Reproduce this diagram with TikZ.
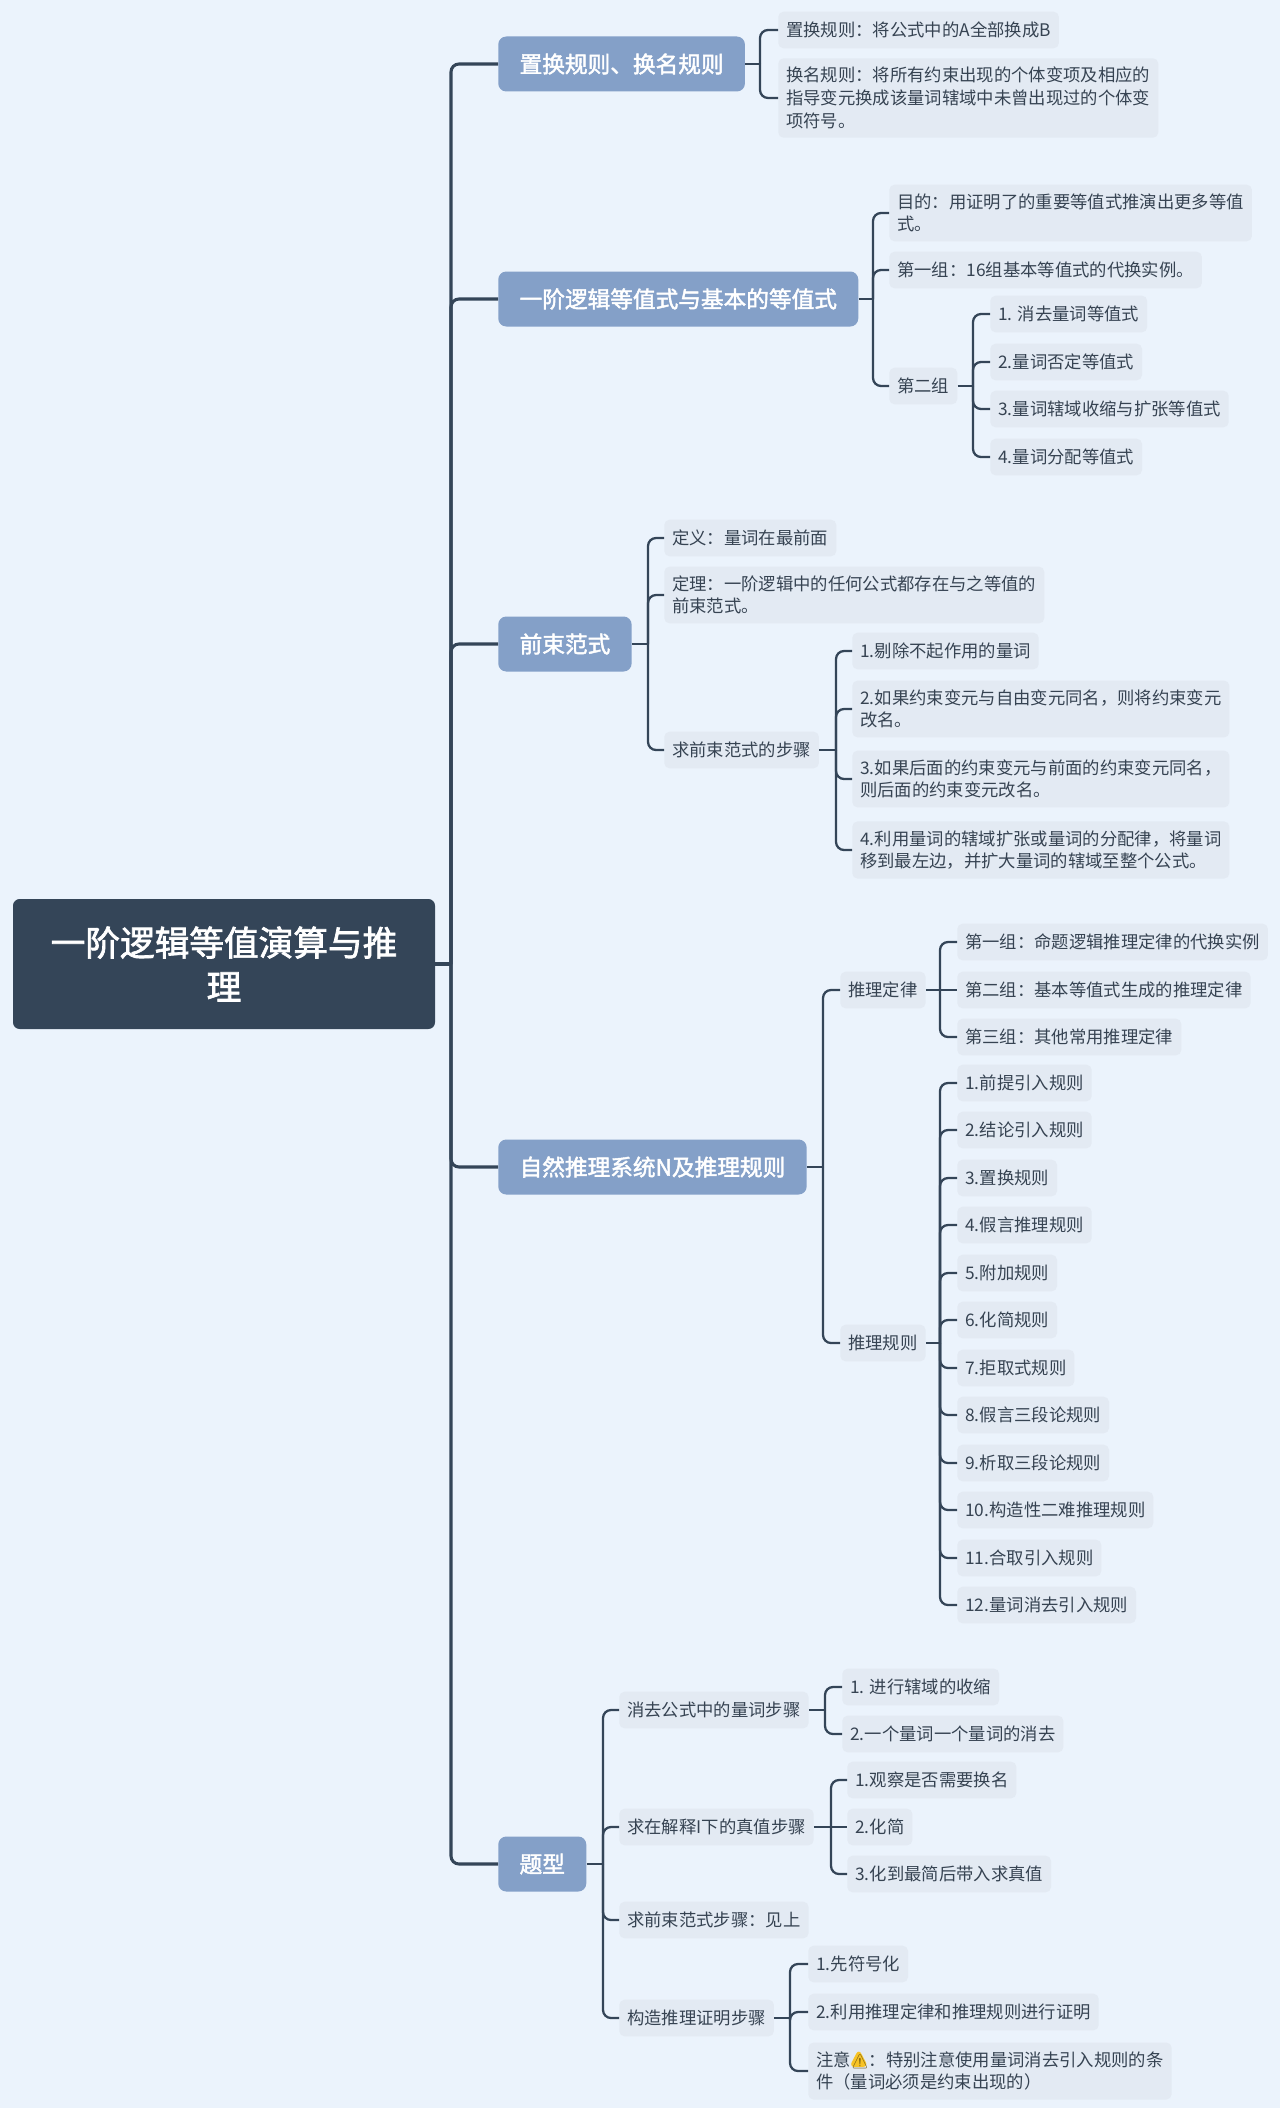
\documentclass[tikz,border=0pt]{standalone}
\usepackage{fontspec}
\setmainfont{Noto Sans CJK SC}
\newfontfamily\semifont[FakeBold=2]{Noto Sans CJK SC}
\newfontfamily\emojifont{Noto Emoji}
\usetikzlibrary{positioning,calc}
\definecolor{bgblue}{HTML}{EBF3FC}
\definecolor{rootfill}{HTML}{344558}
\definecolor{topicfill}{HTML}{84A0C8}
\definecolor{leaffill}{HTML}{E3EAF3}
\definecolor{leaftext}{HTML}{364352}
\definecolor{warnamber}{HTML}{F7C325}
\begin{document}
\begin{tikzpicture}[
  x=0.75pt, y=-0.75pt,
  root/.style={rectangle, fill=rootfill, text=white, rounded corners=5pt, minimum width=316.5pt, minimum height=97.5pt, align=center, font=\fontsize{26}{33}\selectfont\semifont},
  topic/.style={rectangle, anchor=west, fill=topicfill, text=white, rounded corners=6pt, inner xsep=16pt, inner ysep=0pt, minimum height=41.25pt, font=\fontsize{17}{20}\selectfont\semifont},
  leaf/.style={rectangle, anchor=west, fill=leaffill, text=leaftext, rounded corners=4pt, inner xsep=6pt, inner ysep=4.5pt, minimum height=27.5pt, align=left, font=\fontsize{13}{17}\selectfont},
  long/.style={leaf, inner ysep=6.75pt},
  trunk/.style={rootfill, line width=2.3pt, rounded corners=6pt},
  twig/.style={rootfill, line width=1.7pt, rounded corners=6pt}
]
  \fill[bgblue] (0,0) rectangle (1280,2108);
  \node[root] (m) at (224,964) {一阶逻辑等值演算与推\\理};
  \node[topic] (t1) at (498,64) {置换规则、换名规则};
  \node[topic] (t2) at (498,299) {一阶逻辑等值式与基本的等值式};
  \node[topic] (t3) at (498,644) {前束范式};
  \node[topic] (t4) at (498,1167) {自然推理系统N及推理规则};
  \node[topic] (t5) at (498,1864) {题型};

  \node[leaf] (a1) at (778,30) {置换规则：将公式中的A全部换成B};
  \node[long] (a2) at (778,98) {换名规则：将所有约束出现的个体变项及相应的\\指导变元换成该量词辖域中未曾出现过的个体变\\项符号。};

  \node[long] (b1) at (889,213) {目的：用证明了的重要等值式推演出更多等值\\式。};
  \node[leaf] (b2) at (889,270) {第一组：16组基本等值式的代换实例。};
  \node[leaf] (b3) at (889,386) {第二组};
  \node[leaf] (b31) at (990,314) {1. 消去量词等值式};
  \node[leaf] (b32) at (990,362) {2.量词否定等值式};
  \node[leaf] (b33) at (990,409) {3.量词辖域收缩与扩张等值式};
  \node[leaf] (b34) at (990,457) {4.量词分配等值式};

  \node[leaf] (c1) at (664,538) {定义：量词在最前面};
  \node[long] (c2) at (664,595) {定理：一阶逻辑中的任何公式都存在与之等值的\\前束范式。};
  \node[leaf] (c3) at (664,750) {求前束范式的步骤};
  \node[leaf] (c31) at (852,651) {1.剔除不起作用的量词};
  \node[long] (c32) at (852,709) {2.如果约束变元与自由变元同名，则将约束变元\\改名。};
  \node[long] (c33) at (852,779) {3.如果后面的约束变元与前面的约束变元同名，\\则后面的约束变元改名。};
  \node[long] (c34) at (852,850) {4.利用量词的辖域扩张或量词的分配律，将量词\\移到最左边，并扩大量词的辖域至整个公式。};

  \node[leaf] (d1) at (840,990) {推理定律};
  \node[leaf] (d11) at (957,942) {第一组：命题逻辑推理定律的代换实例};
  \node[leaf] (d12) at (957,990) {第二组：基本等值式生成的推理定律};
  \node[leaf] (d13) at (957,1037) {第三组：其他常用推理定律};
  \node[leaf] (d2) at (840,1343) {推理规则};
  \node[leaf] (d21) at (957,1083) {1.前提引入规则};
  \node[leaf] (d22) at (957,1130) {2.结论引入规则};
  \node[leaf] (d23) at (957,1178) {3.置换规则};
  \node[leaf] (d24) at (957,1225) {4.假言推理规则};
  \node[leaf] (d25) at (957,1273) {5.附加规则};
  \node[leaf] (d26) at (957,1320) {6.化简规则};
  \node[leaf] (d27) at (957,1368) {7.拒取式规则};
  \node[leaf] (d28) at (957,1415) {8.假言三段论规则};
  \node[leaf] (d29) at (957,1463) {9.析取三段论规则};
  \node[leaf] (d210) at (957,1510) {10.构造性二难推理规则};
  \node[leaf] (d211) at (957,1558) {11.合取引入规则};
  \node[leaf] (d212) at (957,1605) {12.量词消去引入规则};

  \node[leaf] (e1) at (619,1710) {消去公式中的量词步骤};
  \node[leaf] (e11) at (842,1687) {1. 进行辖域的收缩};
  \node[leaf] (e12) at (842,1734) {2.一个量词一个量词的消去};
  \node[leaf] (e2) at (619,1827) {求在解释I下的真值步骤};
  \node[leaf] (e21) at (847,1780) {1.观察是否需要换名};
  \node[leaf] (e22) at (847,1827) {2.化简};
  \node[leaf] (e23) at (847,1874) {3.化到最简后带入求真值};
  \node[leaf] (e3) at (619,1920) {求前束范式步骤：见上};
  \node[leaf] (e4) at (619,2018) {构造推理证明步骤};
  \node[leaf] (e41) at (808,1964) {1.先符号化};
  \node[leaf] (e42) at (808,2012) {2.利用推理定律和推理规则进行证明};
  \node[long, path picture={\fill[warnamber, shift={(path picture bounding box.west)}] (33,-22) -- (52,-22) -- (42.5,-40) -- cycle;}] (e43) at (808,2071) {注意\makebox[13.5pt]{\emojifont\fontsize{10.5}{10.5}\selectfont\textcolor{warnamber!45!black}{⚠}}：特别注意使用量词消去引入规则的条\\件（量词必须是约束出现的）};

  \coordinate (jm) at (451,964);
  \coordinate (j1) at (760,64);
  \coordinate (j2) at (873,299);
  \coordinate (j23) at (973,386);
  \coordinate (j3) at (648,644);
  \coordinate (j33) at (836,750);
  \coordinate (j4) at (823,1167);
  \coordinate (j41) at (940,990);
  \coordinate (j42) at (940,1343);
  \coordinate (j5) at (603,1864);
  \coordinate (j51) at (825,1710);
  \coordinate (j52) at (831,1827);
  \coordinate (j54) at (790,2018);

  \draw[trunk] (m) -- (jm);
  \draw[trunk] (jm) |- (t1.west);
  \draw[trunk] (jm) |- (t2.west);
  \draw[trunk] (jm) |- (t3.west);
  \draw[trunk] (jm) |- (t4.west);
  \draw[trunk] (jm) |- (t5.west);

  \draw[twig] (t1) -- (j1);
  \draw[twig] (j1) |- (a1.west);
  \draw[twig] (j1) |- (a2.west);

  \draw[twig] (t2) -- (j2);
  \draw[twig] (j2) |- (b1.west);
  \draw[twig] (j2) |- (b2.west);
  \draw[twig] (j2) |- (b3.west);
  \draw[twig] (b3) -- (j23);
  \draw[twig] (j23) |- (b31.west);
  \draw[twig] (j23) |- (b32.west);
  \draw[twig] (j23) |- (b33.west);
  \draw[twig] (j23) |- (b34.west);

  \draw[twig] (t3) -- (j3);
  \draw[twig] (j3) |- (c1.west);
  \draw[twig] (j3) |- (c2.west);
  \draw[twig] (j3) |- (c3.west);
  \draw[twig] (c3) -- (j33);
  \draw[twig] (j33) |- (c31.west);
  \draw[twig] (j33) |- (c32.west);
  \draw[twig] (j33) |- (c33.west);
  \draw[twig] (j33) |- (c34.west);

  \draw[twig] (t4) -- (j4);
  \draw[twig] (j4) |- (d1.west);
  \draw[twig] (j4) |- (d2.west);
  \draw[twig] (d1) -- (j41);
  \draw[twig] (j41) |- (d11.west);
  \draw[twig] (j41) -- (d12.west);
  \draw[twig] (j41) |- (d13.west);
  \draw[twig] (d2) -- (j42);
  \draw[twig] (j42) |- (d21.west);
  \draw[twig] (j42) |- (d22.west);
  \draw[twig] (j42) |- (d23.west);
  \draw[twig] (j42) |- (d24.west);
  \draw[twig] (j42) |- (d25.west);
  \draw[twig] (j42) |- (d26.west);
  \draw[twig] (j42) |- (d27.west);
  \draw[twig] (j42) |- (d28.west);
  \draw[twig] (j42) |- (d29.west);
  \draw[twig] (j42) |- (d210.west);
  \draw[twig] (j42) |- (d211.west);
  \draw[twig] (j42) |- (d212.west);

  \draw[twig] (t5) -- (j5);
  \draw[twig] (j5) |- (e1.west);
  \draw[twig] (j5) |- (e2.west);
  \draw[twig] (j5) |- (e3.west);
  \draw[twig] (j5) |- (e4.west);
  \draw[twig] (e1) -- (j51);
  \draw[twig] (j51) |- (e11.west);
  \draw[twig] (j51) |- (e12.west);
  \draw[twig] (e2) -- (j52);
  \draw[twig] (j52) |- (e21.west);
  \draw[twig] (j52) -- (e22.west);
  \draw[twig] (j52) |- (e23.west);
  \draw[twig] (e4) -- (j54);
  \draw[twig] (j54) |- (e41.west);
  \draw[twig] (j54) |- (e42.west);
  \draw[twig] (j54) |- (e43.west);
\end{tikzpicture}
\end{document}
